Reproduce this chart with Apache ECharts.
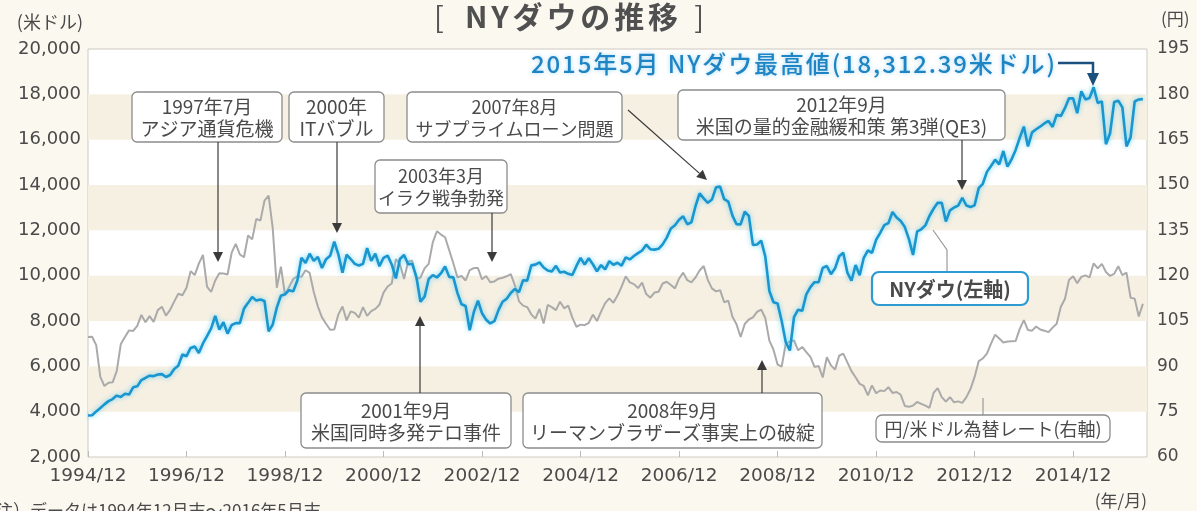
<!DOCTYPE html>
<html><head><meta charset="utf-8">
<script src="https://cdn.jsdelivr.net/npm/echarts@6/dist/echarts.min.js"></script>
<style>html,body{margin:0;padding:0;background:#fbf8f0;}#c{width:1197px;height:511px;}</style>
</head><body><div id="c"></div>
<script>
// Monthly series, 1994/12 .. 2016/05 (258 months)
const dow = [
3834,
3843,4011,4158,4321,4465,4556,4708,4647,4789,4756,5075,5117,
5395,5486,5587,5569,5643,5655,5529,5616,5882,6029,6522,6448,
6813,6878,6584,7009,7331,7673,8223,7622,7945,7442,7823,7908,
7907,8546,8800,9063,8900,8952,8883,7539,7843,8592,9117,9181,
9359,9307,9786,10789,10560,10971,10655,10829,10337,10729,10878,11497,
10940,10128,10922,10734,10522,10448,10522,11215,10651,10971,10415,10788,
10887,10495,9879,10735,10912,10502,10523,9950,8848,9075,9852,10022,
9920,10106,10404,9946,9925,9243,8737,8664,7592,8397,8896,8342,
8054,7891,7992,8480,8850,8985,9234,9416,9275,9801,9782,10454,
10488,10584,10358,10226,10188,10435,10140,10174,10080,10027,10428,10783,
10490,10766,10504,10193,10467,10275,10641,10482,10569,10440,10806,10718,
10865,10993,11109,11367,11168,11150,11186,11381,11679,12081,12222,12463,
12622,12269,12354,13063,13628,13409,13212,13358,13896,13930,13372,13265,
12650,12266,12263,12820,12638,11350,11378,11544,10851,9325,8829,8776,
8001,7063,6700,8168,8500,8447,9172,9496,9712,9713,10345,10428,
10067,10325,10857,11009,10137,9774,10466,10015,10788,11118,11006,11578,
11892,12226,12320,12811,12570,12414,12143,11614,10913,11955,12046,12218,
12633,12952,13212,13214,12393,12880,13009,13091,13437,13096,13026,13104,
13861,14054,14579,14840,15116,14910,15500,14810,15130,15546,16086,16577,
15699,16322,16458,16581,16717,16827,16563,17098,17043,17391,17828,17823,
17165,18133,17776,17841,18312,17620,17690,15800,16285,17664,17720,17425,
15700,16100,17685,17774,17787
];
const jpy = [
99.7,
99.8,97.0,86.5,83.5,84.6,84.7,88.4,97.4,99.7,101.9,101.7,103.4,
107.0,104.6,106.6,104.7,108.6,109.7,106.8,108.7,111.4,114.0,113.5,116.0,
121.5,120.2,124.0,126.9,116.4,114.6,118.4,120.8,120.7,120.4,127.6,130.5,
127.0,126.1,133.3,132.0,138.8,138.2,144.8,146.5,135.8,116.0,123.0,113.6,
116.3,118.9,119.8,119.6,121.8,120.9,114.6,109.8,106.2,104.1,102.1,102.2,
107.2,109.8,105.2,108.2,107.7,106.1,109.6,106.7,108.3,109.0,110.4,114.4,
116.4,117.4,125.5,123.8,118.9,124.7,124.9,118.8,119.4,122.4,123.9,131.0,
134.7,133.6,132.7,128.4,124.1,119.5,119.9,118.4,121.8,122.5,122.5,118.8,
119.9,117.8,118.1,119.0,119.3,119.8,120.5,116.8,111.5,110.1,109.6,107.2,
105.8,109.0,104.2,110.3,109.6,108.6,111.4,109.2,110.1,106.1,103.1,103.8,
103.6,104.4,107.1,105.0,108.1,110.9,112.5,111.0,113.4,116.4,119.8,117.8,
117.2,115.9,117.7,113.9,112.7,114.4,114.7,117.4,118.0,116.9,115.8,119.0,
121.0,118.5,117.8,119.4,121.7,123.2,118.6,115.8,114.8,115.2,111.2,111.7,
106.4,103.9,99.7,104.0,105.5,106.2,108.0,108.8,106.0,98.5,95.5,90.6,
89.9,97.6,98.2,98.6,95.3,96.4,94.7,93.1,89.8,90.1,86.3,93.0,
90.3,88.9,93.5,94.2,91.3,88.4,86.4,84.2,83.5,80.4,83.7,81.1,
82.0,81.8,83.1,81.2,81.5,80.6,76.9,76.6,77.0,78.2,77.6,77.0,
76.3,81.2,82.8,79.8,78.3,79.8,78.1,78.4,77.9,79.8,82.5,86.5,
91.7,92.6,94.2,97.5,100.5,99.2,97.9,98.2,98.3,98.4,102.4,105.3,
102.0,101.8,103.2,102.2,101.8,101.3,102.8,104.1,109.7,112.3,118.6,119.8,
117.5,119.6,120.1,119.4,124.1,122.4,123.9,121.2,119.9,120.6,123.1,120.2,
121.0,112.7,112.4,106.5,110.7
];
const xTickLabels = ['1994/12','1996/12','1998/12','2000/12','2002/12','2004/12','2006/12','2008/12','2010/12','2012/12','2014/12'];
const seriesNames = ['NYダウ(左軸)','円/米ドル為替レート(右軸)'];

const FONT = '"Noto Sans CJK JP", "Noto Sans", sans-serif';
const NUMFONT = '"DejaVu Sans", "Noto Sans CJK JP", sans-serif';
const TXT = '#4a4a4a';
const dowData = dow.map((v,i)=>[i,v]);
const jpyData = jpy.map((v,i)=>[i,v]);

const mctx = document.createElement('canvas').getContext('2d');
function spaced(text,x1,x2,y,size,weight,fill,extra){
  mctx.font = weight+' '+size+'px '+FONT;
  const chars = Array.from(text);
  const ws = chars.map(c=>mctx.measureText(c).width);
  const total = ws.reduce((a,b)=>a+b,0);
  const gap = (x2-x1-total)/(chars.length-1);
  let x = x1; const out=[];
  chars.forEach((c,i)=>{
    if(c!==' ') out.push({type:'text',z:101,style:Object.assign({text:c,x:x,y:y,fontFamily:FONT,fontSize:size,fontWeight:weight,fill:fill,align:'left',verticalAlign:'middle'},extra||{})});
    x += ws[i]+gap;
  });
  return out;
}
function arrow(x1,y1,x2,y2,color,w){
  color = color||'#3a3a3a'; w = w||1.2;
  const dx=x2-x1, dy=y2-y1, L=Math.sqrt(dx*dx+dy*dy), ux=dx/L, uy=dy/L;
  const hl=10, hw=5;
  const bx=x2-ux*hl, by=y2-uy*hl;
  return [
    {type:'line', z:100, shape:{x1:x1,y1:y1,x2:bx,y2:by}, style:{stroke:color,lineWidth:w}},
    {type:'polygon', z:100, shape:{points:[[x2,y2],[bx-uy*hw,by+ux*hw],[bx+uy*hw,by-ux*hw]]}, style:{fill:color}}
  ];
}
function box(x1,y1,x2,y2,text,opt){
  opt=opt||{};
  return [
    {type:'rect', z:100, shape:{x:x1,y:y1,width:x2-x1,height:y2-y1,r:opt.r||5},
      style:{fill:'#fff',stroke:opt.stroke||'#8c8c8c',lineWidth:opt.lw||1.3}},
    {type:'text', z:101, style:{text:text,x:(x1+x2)/2,y:(y1+y2)/2+1,align:'center',verticalAlign:'middle',
      fontFamily:FONT,fontSize:opt.fs||19,fontWeight:opt.fw||'normal',fill:TXT,lineHeight:opt.lh||22}}
  ];
}
function txt(x,y,text,o){
  return {type:'text', z:101, style:Object.assign({text:text,x:x,y:y,fontFamily:FONT,fontSize:16,fill:TXT,align:'left',verticalAlign:'middle'},o||{})};
}

let g = [];
g.push(txt(434,17,'[',{fontSize:29,fill:'#555'}));
g = g.concat(spaced('NYダウの推移',465,678,17,30,'bold','#505050'));
g.push(txt(704,17,']',{fontSize:29,fill:'#555',align:'right'}));
g.push(txt(83,22,'(米ドル)',{align:'right',fontSize:18}));
g.push(txt(1161,19,'(円)',{fontSize:17}));
g.push(txt(1147,501,'(年/月)',{align:'right',fontSize:17}));
g.push(txt(-4,511,'注）データは1994年12月末～2016年5月末',{fontSize:17}));

g = g.concat(box(132,92,282,142,'1997年7月\nアジア通貨危機'));
g = g.concat(arrow(218,142,218,262));
g = g.concat(box(289,92,384,142,'2000年\nITバブル'));
g = g.concat(arrow(337,142,337,233));
g = g.concat(box(375,160,507,213,'2003年3月\nイラク戦争勃発',{fs:18}));
g = g.concat(arrow(492,213,492,262));
g = g.concat(box(407,92,622,142,'2007年8月\nサブプライムローン問題',{fs:18}));
g = g.concat(arrow(628,110,707,180));
g = g.concat(box(678,90,1005,140,'2012年9月\n米国の量的金融緩和策 第3弾(QE3)'));
g = g.concat(arrow(962,140,962,190));
g = g.concat(box(301,393,511,448,'2001年9月\n米国同時多発テロ事件'));
g = g.concat(arrow(420,393,420,316));
g = g.concat(box(523,393,822,448,'2008年9月\nリーマンブラザーズ事実上の破綻'));
g = g.concat(arrow(762,393,762,360));
g.push({type:'polyline', z:99, shape:{points:[[933,230],[947,250],[947,272]]}, style:{stroke:'#9a9a9a',lineWidth:1.2,fill:null}});
g = g.concat(box(872,272,1028,305,'NYダウ(左軸)',{stroke:'#2b9bd1',lw:2.2,r:7,fw:'bold',fs:20}));
g.push({type:'line', z:99, shape:{x1:983,y1:398,x2:983,y2:415}, style:{stroke:'#9a9a9a',lineWidth:1.2}});
g = g.concat(box(876,415,1110,442,'円/米ドル為替レート(右軸)',{fs:18,r:6}));
g = g.concat(spaced('2015年5月 NYダウ最高値(18,312.39米ドル)',531,1055,64,24,'500','#1f84c3',{textShadowColor:'rgba(140,205,240,0.8)',textShadowBlur:4}));
g.push({type:'polyline', z:100, shape:{points:[[1058,63],[1093,63],[1093,74]]}, style:{stroke:'#1b4f7e',lineWidth:2.5,fill:null}});
g.push({type:'polygon', z:100, shape:{points:[[1093,86],[1087,73],[1099,73]]}, style:{fill:'#1b4f7e'}});

const chart = echarts.init(document.getElementById('c'), null, {renderer:'canvas'});
chart.setOption({
  animation:false,
  backgroundColor:'#fbf8f0',
  grid:{left:88,right:50,top:49,bottom:54,show:true,backgroundColor:'#fff',borderColor:'#cfcac0',borderWidth:1},
  xAxis:{type:'value',min:0,max:258,interval:24,
    axisLine:{show:false},
    axisTick:{show:true,inside:true,length:6,lineStyle:{color:'#bbb'}},
    splitLine:{show:false},
    axisLabel:{showMaxLabel:false,margin:10,fontFamily:NUMFONT,fontSize:18.5,color:TXT,
      formatter:function(v){return xTickLabels[Math.round(v/24)]||'';}}},
  yAxis:[
    {type:'value',min:2000,max:20000,interval:2000,position:'left',
      axisLine:{show:false},axisTick:{show:false},splitLine:{show:false},
      splitArea:{show:true,areaStyle:{color:['rgba(255,255,255,0)','#f6f0e3']}},
      axisLabel:{margin:7,fontFamily:NUMFONT,fontSize:18,color:TXT,padding:[0,0,7,0],
        formatter:function(v){return v.toLocaleString('en-US');}}},
    {type:'value',min:60,max:195,interval:15,position:'right',
      axisLine:{show:false},axisTick:{show:false},splitLine:{show:false},
      axisLabel:{margin:10,fontFamily:NUMFONT,fontSize:17,color:TXT,padding:[0,0,5,0]}}
  ],
  series:[
    {name:seriesNames[1],type:'line',yAxisIndex:1,data:jpyData,showSymbol:false,
      lineStyle:{color:'#aaaaaa',width:2},z:2},
    {name:seriesNames[0],type:'line',yAxisIndex:0,data:dowData,showSymbol:false,
      lineStyle:{color:'#1a96cf',width:2.6,shadowColor:'rgba(100,205,240,0.9)',shadowBlur:5},z:3}
  ],
  graphic:g
});
</script></body></html>
